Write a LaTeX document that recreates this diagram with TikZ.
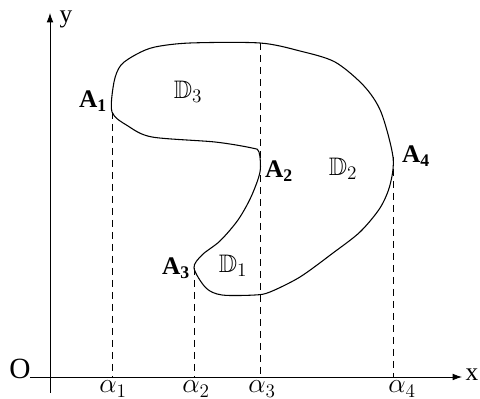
\documentclass[tikz,border=0pt]{standalone}
\usepackage{amssymb}
\usepackage{fontspec}
\setmainfont{Liberation Serif}
\usetikzlibrary{arrows.meta}

\tikzset{
  axis/.style={line width=0.6pt},
  proj/.style={line width=0.6pt, dash pattern=on 5.5pt off 3.5pt},
  bound/.style={line width=0.8pt},
  ptlabel/.style={inner sep=0pt, font=\fontsize{19}{19}\selectfont\bfseries},
  reglabel/.style={inner sep=0pt, font=\fontsize{19}{19}\selectfont},
  ticklabel/.style={inner sep=0pt, font=\fontsize{20}{20}\selectfont}
}

\begin{document}
\begin{tikzpicture}[x=0.75pt, y=-0.75pt]
  \useasboundingbox (0,0) rectangle (480,399);
  % Axes
  \coordinate (xs) at (30,377);
  \coordinate (xe) at (462,377);
  \coordinate (ys) at (50,393);
  \coordinate (ye) at (50,13);
  \draw[axis, -{Latex[length=7pt, width=5pt]}] (xs) -- (xe);
  \draw[axis, -{Latex[length=7pt, width=5pt]}] (ys) -- (ye);
  \node[reglabel] (xlab) at (472,375) {x};
  \node[reglabel] (ylab) at (66,19) {y};
  \node[reglabel, font=\fontsize{22}{22}\selectfont] (orig) at (20,369) {O};
  % Points on the boundary
  \coordinate (A1) at (112,112);
  \coordinate (A2) at (260,172);
  \coordinate (A3) at (194,268);
  \coordinate (A4) at (393,157);
  \coordinate (top) at (260,43);
  % Boundary
  \draw[bound] plot[smooth cycle, tension=0.5] coordinates {
    (A1) (114,82) (121,65) (137,54) (155,47) (190,43) (top) (300,51)
    (335,62) (364,86) (381,112) (A4) (390,185) (380,208) (360,232)
    (333,253) (300,277) (270,292) (255,295) (222,295) (206,288)
    (A3) (202,255) (220,241) (238,220) (251,197) (A2) (259,152)
    (252,148) (215,142) (152,137) (128,126)};
  % Projections
  \draw[proj] (A1) -- (A1 |- xs);
  \draw[proj] (A3) -- (A3 |- xs);
  \draw[proj] (top) -- (top |- xs);
  \draw[proj] (A4) -- (A4 |- xs);
  % Point labels
  \node[ptlabel] (lA1) at (93,101) {A$_{\mathbf{1}}$};
  \node[ptlabel] (lA2) at (279,171) {A$_{\mathbf{2}}$};
  \node[ptlabel] (lA3) at (176,268) {A$_{\mathbf{3}}$};
  \node[ptlabel] (lA4) at (416,156) {A$_{\mathbf{4}}$};
  % Region labels
  \node[reglabel] (D1) at (233,266) {$\mathbb{D}_1$};
  \node[reglabel] (D2) at (343,169) {$\mathbb{D}_2$};
  \node[reglabel] (D3) at (188,92) {$\mathbb{D}_3$};
  % Tick labels
  \node[ticklabel] (a1) at (113,389) {$\alpha_1$};
  \node[ticklabel] (a2) at (196,389) {$\alpha_2$};
  \node[ticklabel] (a3) at (262,389) {$\alpha_3$};
  \node[ticklabel] (a4) at (402,389) {$\alpha_4$};
\end{tikzpicture}
\end{document}
